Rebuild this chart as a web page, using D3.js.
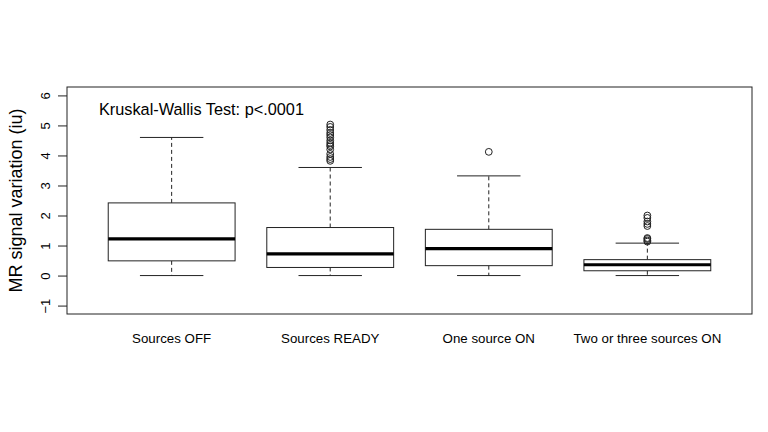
<!DOCTYPE html>
<html>
<head>
<meta charset="utf-8">
<script src="https://cdn.jsdelivr.net/npm/d3@7"></script>
<style>
  body { margin: 0; background: #fff; }
  text { font-family: "Liberation Sans", Arial, sans-serif; fill: #000; }
</style>
</head>
<body>
<svg></svg>
<script>
const width = 768;
const height = 432;

// groups and their box stats
const categories = ['Sources OFF', 'Sources READY', 'One source ON', 'Two or three sources ON'];
const lowerWhisker = [0, 0, 0, 0];
const q1 = [0.49, 0.27, 0.33, 0.16];
const medians = [1.22, 0.72, 0.9, 0.36];
const q3 = [2.42, 1.6, 1.54, 0.53];
const upperWhisker = [4.6, 3.6, 3.32, 1.08];
const outliers = [
    [],
    [3.82, 3.88, 3.95, 4.05, 4.2, 4.3, 4.35, 4.42, 4.5, 4.6, 4.68, 4.75, 4.85, 4.95, 5.03],
    [4.12],
    [1.13, 1.17, 1.22, 1.25, 1.65, 1.72, 1.8, 1.92, 2.0]
];
const yTicks = [-1, 0, 1, 2, 3, 4, 5, 6];

const margin = { top: 87, right: 16, bottom: 118, left: 67 };
const plotW = width - margin.left - margin.right;
const plotH = height - margin.top - margin.bottom;

const svg = d3.select('svg')
    .attr('width', width).attr('height', height);
const g = svg.append('g')
    .attr('transform', `translate(${margin.left},${margin.top})`);

// R style: 4% extension on both axes
const x = d3.scaleLinear().domain([0.34, 4.66]).range([0, plotW]);
const y = d3.scaleLinear().domain([-1.28, 6.28]).range([plotH, 0]);

// frame
g.append('rect')
    .attr('width', plotW).attr('height', plotH)
    .attr('fill', 'none').attr('stroke', '#222').attr('stroke-width', 1);

// y axis, rotated labels like R
const yAxis = d3.axisLeft(y).tickValues(yTicks).tickSize(9);
const ya = g.append('g').call(yAxis);
ya.select('.domain').remove();
ya.selectAll('.tick line').attr('stroke', '#222');
ya.selectAll('.tick text')
    .style('font-family', '"Liberation Sans", Arial, sans-serif')
    .style('font-size', '13px')
    .attr('x', 0).attr('y', 0).attr('dy', '0.35em')
    .attr('text-anchor', 'middle')
    .attr('transform', 'translate(-22,0) rotate(-90)');

// y label
svg.append('text')
    .attr('transform', `translate(16,${margin.top + y(2.5)}) rotate(-90)`)
    .attr('text-anchor', 'middle')
    .attr('dy', '0.35em')
    .style('font-size', '18px')
    .text('MR signal variation (iu)');

// x category labels
g.selectAll('.cat')
    .data(categories)
    .enter().append('text')
    .attr('class', 'cat')
    .attr('x', (d, i) => x(i + 1))
    .attr('y', plotH + 29)
    .attr('text-anchor', 'middle')
    .style('font-size', '13.3px')
    .text(d => d);

// boxes
const boxHalf = 0.4;
const capHalf = 0.2;
categories.forEach((c, i) => {
    const cx = x(i + 1);
    const bx0 = x(i + 1 - boxHalf), bx1 = x(i + 1 + boxHalf);
    const cx0 = x(i + 1 - capHalf), cx1 = x(i + 1 + capHalf);
    const bg = g.append('g');

    // whiskers
    bg.append('line')
        .attr('x1', cx).attr('x2', cx)
        .attr('y1', y(q3[i])).attr('y2', y(upperWhisker[i]))
        .attr('stroke', '#222').attr('stroke-dasharray', '4,3');
    bg.append('line')
        .attr('x1', cx).attr('x2', cx)
        .attr('y1', y(q1[i])).attr('y2', y(lowerWhisker[i]))
        .attr('stroke', '#222').attr('stroke-dasharray', '4,3');
    bg.append('line')
        .attr('x1', cx0).attr('x2', cx1)
        .attr('y1', y(upperWhisker[i])).attr('y2', y(upperWhisker[i]))
        .attr('stroke', '#222');
    bg.append('line')
        .attr('x1', cx0).attr('x2', cx1)
        .attr('y1', y(lowerWhisker[i])).attr('y2', y(lowerWhisker[i]))
        .attr('stroke', '#222');

    // box
    bg.append('rect')
        .attr('x', bx0).attr('width', bx1 - bx0)
        .attr('y', y(q3[i])).attr('height', y(q1[i]) - y(q3[i]))
        .attr('fill', '#fff').attr('stroke', '#222');

    // median
    bg.append('line')
        .attr('x1', bx0).attr('x2', bx1)
        .attr('y1', y(medians[i])).attr('y2', y(medians[i]))
        .attr('stroke', '#000').attr('stroke-width', 3.2);

    // outliers
    bg.selectAll('circle')
        .data(outliers[i])
        .enter().append('circle')
        .attr('cx', cx)
        .attr('cy', d => y(d))
        .attr('r', 3.4)
        .attr('fill', 'none')
        .attr('stroke', '#222');
});

// test annotation
g.append('text')
    .attr('x', 32)
    .attr('y', 28)
    .style('font-size', '16.3px')
    .text('Kruskal-Wallis Test: p<.0001');
</script>
</body>
</html>
